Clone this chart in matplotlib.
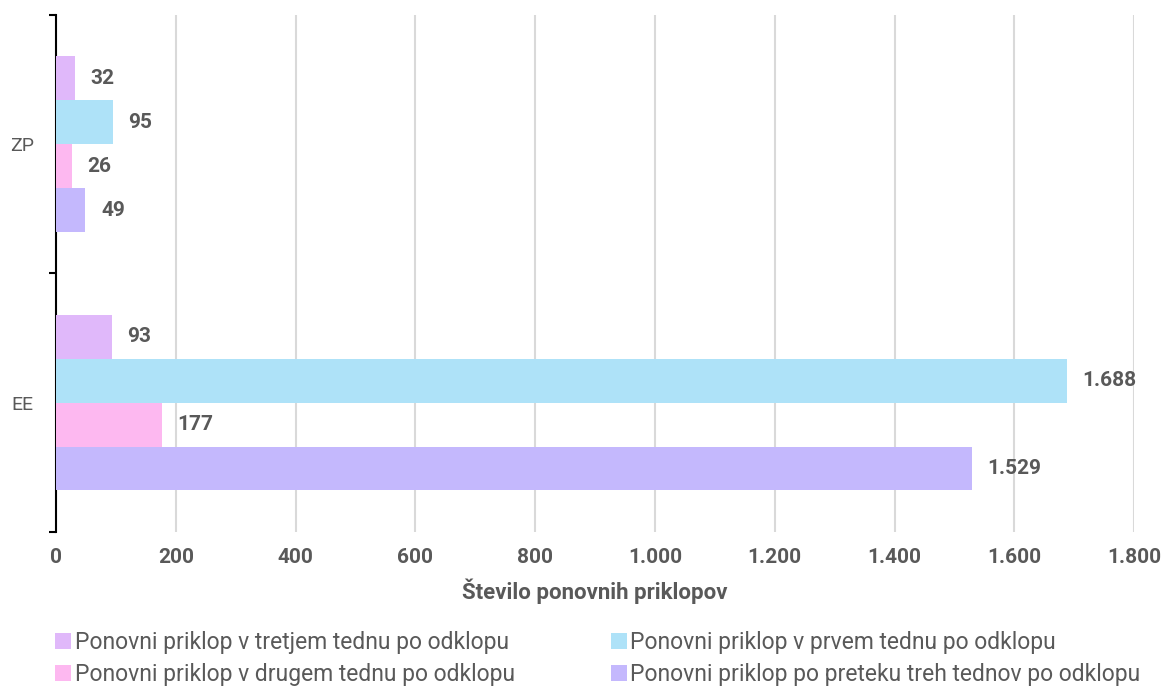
import numpy as np
import matplotlib.pyplot as plt
from matplotlib.ticker import FixedLocator, FuncFormatter

plt.rcParams['font.family'] = ['Roboto', 'DejaVu Sans']

categories = ["EE", "ZP"]
series_names = [
    "Ponovni priklop v tretjem tednu po odklopu",
    "Ponovni priklop v prvem tednu po odklopu",
    "Ponovni priklop v drugem tednu po odklopu",
    "Ponovni priklop po preteku treh tednov po odklopu",
]
tretji = [93, 32]
prvi = [1688, 95]
drugi = [177, 26]
preteku = [1529, 49]
colors = ["#E0B8FA", "#AEE2F8", "#FDB8F0", "#C4B8FD"]

values = [tretji, prvi, drugi, preteku]

fig = plt.figure(figsize=(11.68, 6.88), dpi=100)
ax = fig.add_axes([0.048, 0.227, 0.923, 0.751])

y = np.arange(len(categories))
h = 0.17
offsets = [1.5 * h, 0.5 * h, -0.5 * h, -1.5 * h]
grey = "#595959"

def fmt(v):
    return f"{v:,}".replace(",", ".")

handles = []
for vals, off, c, name in zip(values, offsets, colors, series_names):
    bars = ax.barh(y + off, vals, height=h, color=c, label=name, zorder=3)
    handles.append(bars)
    for b, v in zip(bars, vals):
        ax.text(b.get_width() + 26, b.get_y() + h / 2, fmt(v), va="center",
                ha="left", fontsize=15, fontweight="bold", color=grey)

ax.set_xlim(0, 1800)
ax.set_ylim(-0.5, 1.5)
ax.set_xticks(np.arange(0, 1801, 200))
ax.xaxis.set_major_formatter(FuncFormatter(lambda v, p: fmt(int(v))))
ax.tick_params(axis="x", length=0, labelsize=15, labelcolor=grey, pad=12)
for lab in ax.get_xticklabels():
    lab.set_fontweight("bold")
ax.grid(axis="x", color="#D9D9D9", linewidth=1.5, zorder=0)

ax.yaxis.set_major_locator(FixedLocator([-0.5, 0.5, 1.5]))
ax.yaxis.set_major_formatter(FuncFormatter(lambda v, p: ""))
ax.yaxis.set_minor_locator(FixedLocator(y))
ax.yaxis.set_minor_formatter(FuncFormatter(lambda v, p: categories[int(round(v))]))
ax.tick_params(axis="y", which="major", length=5, width=1.5, color="black")
ax.tick_params(axis="y", which="minor", length=0, labelsize=14, labelcolor=grey, pad=16)

for s in ["top", "right", "bottom"]:
    ax.spines[s].set_visible(False)
ax.spines["left"].set_linewidth(1.5)

ax.set_xlabel("Število ponovnih priklopov", fontsize=16, fontweight="bold",
              color=grey, labelpad=8)

order = [0, 2, 1, 3]
ax.legend([handles[i] for i in order], [series_names[i] for i in order],
          loc="upper left", bbox_to_anchor=(-0.02, -0.152), ncol=2,
          frameon=False, fontsize=16.5, handlelength=0.7, handleheight=0.7,
          handletextpad=0.15, columnspacing=4.2, labelspacing=0.38,
          labelcolor=grey)

plt.savefig("out.png", dpi=100)
